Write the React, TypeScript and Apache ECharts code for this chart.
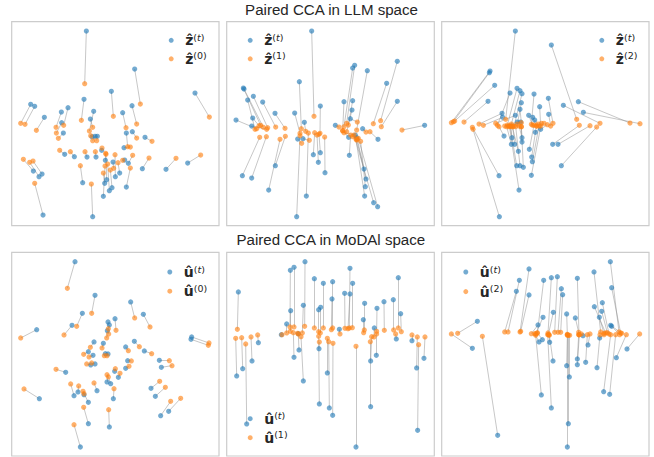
import { useEffect, useRef } from "react";
import * as echarts from "echarts";

// ---- values (panel units; y grows downward) ----
// Panel 1: LLM space, z^(t) vs z^(0)
const llmTarget0: number[][] = [
  [259,93],[404,207],[334,274],[585,279],[92,313],[104,319],[133,352],[252,298],[184,336],[204,323],
  [185,368],[281,334],[271,357],[368,338],[396,317],[190,399],[379,399],[397,395],[435,412],[285,409],
  [292,409],[194,463],[223,470],[261,471],[288,471],[305,451],[372,443],[385,490],[427,506],[498,508],
  [563,489],[100,513],[117,530],[126,522],[129,645],[248,548],[278,650],[310,589],[328,572],[336,563],
  [314,550],[320,539],[346,530],[359,519],[379,561],[339,486],[316,481],[374,480],[276,410],
];
const llmSource0: number[][] = [
  [254,251],[421,312],[340,349],[628,351],[62,370],[75,373],[109,391],[244,361],[168,382],[191,376],
  [169,399],[268,393],[278,382],[378,383],[410,372],[175,415],[383,440],[410,414],[456,424],[278,422],
  [290,422],[179,451],[211,455],[255,455],[286,455],[306,444],[391,441],[398,466],[447,474],[528,475],
  [602,465],[70,478],[89,487],[99,483],[104,550],[241,497],[274,552],[315,498],[323,492],[331,510],
  [310,519],[318,463],[345,464],[354,488],[391,504],[341,505],[317,460],[368,481],[272,407],
];
// Panel 2: LLM space, z^(t) vs z^(1)
const llmTarget1: number[][] = [
  [70,264],[72,267],[83,300],[100,289],[128,306],[98,354],[48,360],[95,378],[67,527],[95,534],
  [146,570],[166,497],[165,340],[238,245],[275,93],[224,339],[253,367],[301,318],[233,417],[249,416],
  [280,464],[301,458],[295,487],[315,518],[259,588],[230,650],[404,196],[398,204],[442,212],[372,305],
  [398,302],[396,330],[391,356],[500,250],[532,184],[532,304],[346,376],[428,386],[474,418],[614,376],
  [410,413],[406,405],[432,507],[438,537],[436,560],[434,588],[461,608],[473,620],[388,466],[386,412],
];
const llmSource1: number[][] = [
  [122,376],[130,382],[105,388],[143,383],[167,381],[117,377],[110,386],[140,388],[119,412],[139,410],
  [180,418],[196,409],[195,385],[244,386],[282,349],[240,400],[257,394],[300,400],[245,430],[268,421],
  [284,398],[297,403],[291,405],[314,411],[265,399],[240,407],[380,370],[372,380],[410,390],[368,392],
  [385,375],[380,395],[412,366],[460,371],[482,362],[484,380],[357,381],[438,396],[450,395],[546,390],
  [398,410],[372,398],[410,420],[412,417],[422,424],[408,418],[402,405],[415,415],[392,405],[368,392],
];
// Panel 3: LLM space, z^(t) vs z^(2)
const llmTarget2: number[][] = [
  [244,93],[352,135],[168,213],[166,218],[182,256],[162,304],[228,279],[249,265],[258,272],[264,281],
  [262,308],[258,328],[300,282],[317,320],[343,295],[344,343],[388,316],[433,305],[448,337],[204,340],
  [206,352],[244,346],[250,366],[260,366],[284,346],[296,352],[302,360],[210,408],[234,413],[232,433],
  [242,433],[264,413],[264,426],[253,454],[248,497],[258,497],[268,502],[255,570],[195,527],[196,650],
  [286,448],[293,471],[295,485],[292,526],[304,397],[320,388],[356,433],[372,433],[382,497],
];
const llmSource2: number[][] = [
  [215,358],[428,358],[52,368],[58,365],[62,363],[90,366],[190,376],[220,375],[232,372],[240,378],
  [250,372],[262,368],[292,373],[320,378],[357,370],[350,378],[498,370],[588,369],[618,371],[135,372],
  [148,376],[185,370],[212,378],[225,380],[296,376],[308,378],[312,372],[195,380],[230,378],[218,380],
  [236,380],[255,378],[262,380],[235,380],[228,378],[245,380],[262,380],[226,378],[115,382],[117,388],
  [300,375],[307,378],[315,378],[322,370],[330,370],[340,374],[436,376],[468,377],[488,381],
];
// Panel 4: MoDAl space, u^(t) vs u^(0)
const modalTarget0: number[][] = [
  [225,101],[285,202],[392,222],[430,259],[247,256],[216,292],[110,305],[575,327],[573,334],[324,282],
  [328,291],[345,272],[322,308],[310,346],[282,342],[265,371],[279,382],[316,377],[324,378],[377,357],
  [403,340],[433,369],[383,398],[377,421],[478,397],[484,418],[272,411],[285,408],[197,433],[344,430],
  [355,448],[321,462],[332,467],[291,488],[222,503],[234,492],[252,500],[265,523],[340,512],[328,597],
  [265,587],[241,657],[118,512],[453,481],[466,505],[482,563],[506,550],
];
const modalSource0: number[][] = [
  [202,181],[275,256],[404,270],[450,297],[230,295],[192,321],[62,330],[627,345],[625,352],[325,302],
  [326,318],[348,307],[320,330],[306,360],[271,358],[251,379],[267,387],[313,383],[321,383],[385,368],
  [418,356],[455,377],[394,399],[387,415],[508,398],[516,413],[260,408],[275,405],[168,424],[346,422],
  [360,436],[321,440],[325,447],[282,465],[212,468],[236,474],[249,490],[252,497],[342,482],[326,545],
  [251,538],[222,590],[72,483],[479,460],[496,478],[512,520],[542,511],
];
// Panel 5: MoDAl space, u^(t) vs u^(1)
const modalTarget1: number[][] = [
  [55,192],[50,444],[68,422],[80,588],[96,399],[115,344],[211,127],[222,118],[255,101],[212,248],
  [200,288],[184,320],[222,388],[237,366],[250,232],[250,459],[283,152],[296,245],[302,238],[297,362],
  [298,528],[310,166],[322,435],[328,540],[338,562],[338,161],[336,213],[358,304],[374,196],[390,121],
  [390,198],[398,166],[408,657],[434,226],[430,275],[452,399],[452,536],[463,300],[469,382],[471,241],
  [492,221],[520,215],[529,333],[535,149],[542,257],[576,338],[590,420],[593,607],[612,391],[235,317],
];
const modalSource1: number[][] = [
  [52,304],[47,331],[65,329],[77,348],[93,327],[113,321],[210,297],[222,297],[254,295],[211,310],
  [200,315],[186,320],[220,314],[235,318],[247,315],[243,326],[283,300],[296,311],[301,315],[298,342],
  [296,325],[310,300],[322,331],[326,341],[339,346],[338,300],[334,305],[360,318],[375,301],[388,300],
  [384,302],[397,299],[408,355],[433,306],[431,314],[455,326],[451,341],[462,327],[470,318],[470,310],
  [493,307],[521,306],[527,318],[535,300],[544,311],[576,321],[592,327],[596,350],[615,327],[233,316],
];
// Panel 6: MoDAl space, u^(t) vs u^(2)
const modalTarget2: number[][] = [
  [130,280],[115,361],[191,622],[247,190],[256,157],[285,123],[285,201],[312,291],[327,268],[315,342],
  [325,335],[322,501],[329,157],[352,149],[370,146],[382,182],[386,200],[358,253],[347,343],[357,399],
  [352,540],[398,258],[398,413],[406,447],[403,587],[400,657],[424,270],[430,151],[430,393],[430,410],
  [447,323],[455,403],[462,351],[480,132],[481,236],[489,419],[496,268],[503,250],[505,224],[497,330],
  [509,491],[527,499],[529,101],[533,179],[530,292],[533,295],[547,389],[579,363],
];
const modalSource2: number[][] = [
  [71,316],[52,318],[145,325],[212,312],[222,312],[258,312],[260,310],[292,317],[305,318],[302,317],
  [310,314],[305,322],[310,316],[342,315],[362,313],[372,313],[380,313],[343,320],[345,320],[346,322],
  [341,320],[400,319],[400,322],[407,322],[403,322],[400,320],[434,313],[435,320],[434,320],[436,320],
  [442,318],[460,320],[468,318],[500,312],[515,315],[498,320],[510,316],[520,314],[525,318],[510,320],
  [530,320],[545,320],[555,312],[560,315],[563,316],[557,320],[577,320],[617,318],
];

const TITLES = ["Paired CCA in LLM space", "Paired CCA in MoDAl space"];
const TARGET_NAMES = ["z_t", "z_t", "z_t", "u_t", "u_t", "u_t"];
const SOURCE_NAMES = ["z_0", "z_1", "z_2", "u_0", "u_1", "u_2"];
const LABELS: Record<string, string> = {
  z_t: "{b|ẑ}{p|(}{i|t}{p|)}",
  z_0: "{b|ẑ}{p|(0)}",
  z_1: "{b|ẑ}{p|(1)}",
  z_2: "{b|ẑ}{p|(2)}",
  u_t: "{b|û}{p|(}{i|t}{p|)}",
  u_0: "{b|û}{p|(0)}",
  u_1: "{b|û}{p|(1)}",
  u_2: "{b|û}{p|(2)}",
};

const PANELS = [
  { t: llmTarget0, s: llmSource0 },
  { t: llmTarget1, s: llmSource1 },
  { t: llmTarget2, s: llmSource2 },
  { t: modalTarget0, s: modalSource0 },
  { t: modalTarget1, s: modalSource1 },
  { t: modalTarget2, s: modalSource2 },
];
const X_EXTENT = [[35, 657], [20, 643], [23, 645], [35, 657], [20, 643], [23, 645]];
const Y_EXTENT = [[65, 677], [65, 677], [65, 677], [73, 684], [73, 684], [73, 684]];

export default function App() {
  const ref = useRef<HTMLDivElement>(null);
  useEffect(() => {
    document.body.style.margin = "0";
    if (!ref.current) return;
    const chart = echarts.init(ref.current, undefined, { renderer: "svg" });

    const lefts = [11.7, 226.7, 441.7];
    const widths = [207.3, 207.6, 207.3];
    const tops = [21.7, 252.3];
    const heights = [204, 203.7];
    const grids: any[] = [];
    const xAxes: any[] = [];
    const yAxes: any[] = [];
    const series: any[] = [];
    PANELS.forEach((p, i) => {
      const c = i % 3;
      const r = Math.floor(i / 3);
      grids.push({
        left: lefts[c], top: tops[r], width: widths[c], height: heights[r],
        show: true, borderColor: "#cccccc", borderWidth: 1.2, backgroundColor: "#ffffff",
      });
      xAxes.push({ type: "value", gridIndex: i, min: X_EXTENT[i][0], max: X_EXTENT[i][1], show: false });
      yAxes.push({ type: "value", gridIndex: i, min: Y_EXTENT[i][0], max: Y_EXTENT[i][1], inverse: true, show: false });
      series.push({
        type: "lines", coordinateSystem: "cartesian2d", xAxisIndex: i, yAxisIndex: i, silent: true, z: 1,
        lineStyle: { color: "#8c8c8c", width: 0.9, opacity: 0.55, curveness: 0 },
        data: p.t.map((pt, k) => ({ coords: [pt, p.s[k]] })),
      });
      series.push({
        type: "scatter", name: TARGET_NAMES[i], xAxisIndex: i, yAxisIndex: i, z: 2,
        symbolSize: 5.2, itemStyle: { color: "#1f77b4", opacity: 0.62 }, data: p.t,
      });
      series.push({
        type: "scatter", name: SOURCE_NAMES[i], xAxisIndex: i, yAxisIndex: i, z: 3,
        symbolSize: 5.2, itemStyle: { color: "#ff7f0e", opacity: 0.62 }, data: p.s,
      });
    });

    const rich = {
      b: { fontFamily: "DejaVu Sans", fontWeight: "bold", fontSize: 14, lineHeight: 16, color: "#262626" },
      p: { fontFamily: "DejaVu Sans", fontSize: 9.5, lineHeight: 4, verticalAlign: "top", color: "#262626" },
      i: { fontFamily: "DejaVu Sans", fontStyle: "italic", fontSize: 9.5, lineHeight: 4, verticalAlign: "top", color: "#262626" },
    };
    const legendPos = [
      [168.7, 32.3, 3.5], [247.7, 32.3, 3.5], [599.3, 32.3, 3.5],
      [167.3, 264, 4.2], [247.7, 410.7, 4], [463.3, 264, 4.6],
    ];
    const legends = PANELS.map((_, i) => ({
      data: [TARGET_NAMES[i], SOURCE_NAMES[i]],
      orient: "vertical", left: legendPos[i][0], top: legendPos[i][1], itemGap: legendPos[i][2],
      padding: 0, itemWidth: 18, itemHeight: 5, icon: "circle", selectedMode: false,
      formatter: (n: string) => LABELS[n],
      textStyle: { rich },
    }));

    const titleStyle = { fontFamily: "Liberation Sans", fontWeight: "normal", fontSize: 15.1, color: "#262626" };
    chart.setOption({
      animation: false,
      backgroundColor: "#ffffff",
      title: [
        { text: TITLES[0], left: 331.5, top: 2.1, textAlign: "center", padding: 0, textStyle: titleStyle },
        { text: TITLES[1], left: 330.8, top: 232.4, textAlign: "center", padding: 0, textStyle: titleStyle },
      ],
      legend: legends,
      grid: grids,
      xAxis: xAxes,
      yAxis: yAxes,
      series,
    });
    return () => chart.dispose();
  }, []);
  return <div ref={ref} style={{ width: 654, height: 457 }} />;
}
